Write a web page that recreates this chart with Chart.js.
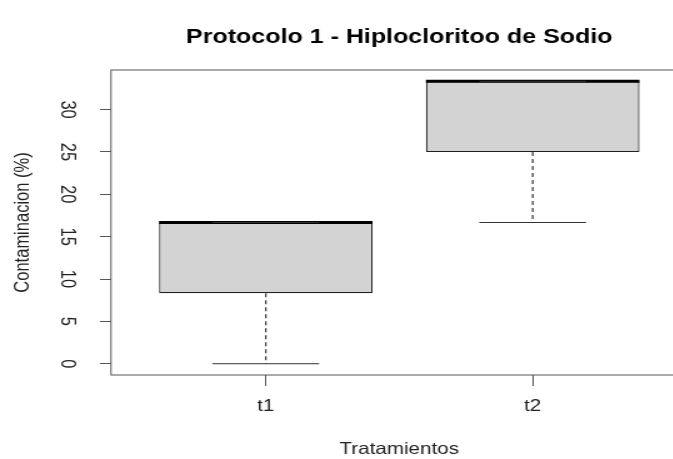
<!DOCTYPE html>
<html>
<head>
<meta charset="utf-8">
<script src="https://cdn.jsdelivr.net/npm/chart.js@4/dist/chart.umd.min.js"></script>
<style>
  html, body { margin: 0; padding: 0; background: #fff; overflow: hidden; width: 673px; height: 459px; }
  /* the plot is laid out on a narrower canvas and widened horizontally */
  #wrap { width: 550px; height: 459px; transform: scaleX(1.25); transform-origin: 0 0; }
  canvas { display: block; }
</style>
</head>
<body>
<div id="wrap"><canvas id="c" width="550" height="459"></canvas></div>
<script>
// Box plot summary per treatment
const categories = ['t1', 't2'];
const minVals    = [0,     16.67];
const q1Vals     = [8.33,  25];
const medianVals = [16.67, 33.33];
const q3Vals     = [16.67, 33.33];
const maxVals    = [16.67, 33.33];

const yTickValues = [0, 5, 10, 15, 20, 25, 30];

const titleText = 'Protocolo 1 - Hiplocloritoo de Sodio';
const xTitle = 'Tratamientos';
const yTitle = 'Contaminacion (%)';

const BOX_HALF = 0.4;   // half box width in category units
const CAP_HALF = 0.2;   // half whisker-cap width

// Join several two-point segments into one line dataset, separated by gaps
function joinSegments(segs) {
  const pts = [];
  segs.forEach((s, k) => {
    if (k) pts.push({ x: s[0].x, y: null });
    pts.push(s[0], s[1]);
  });
  return pts;
}

const pos = categories.map((c, i) => i + 1);

const boxData = pos.map((x, i) => ({ x, y: [q1Vals[i], q3Vals[i]] }));

const whiskerData = joinSegments(pos.flatMap((x, i) => [
  [{ x, y: q1Vals[i] }, { x, y: minVals[i] }],
  [{ x, y: q3Vals[i] }, { x, y: maxVals[i] }]
]));

const capData = joinSegments(pos.flatMap((x, i) => [
  [{ x: x - CAP_HALF, y: minVals[i] }, { x: x + CAP_HALF, y: minVals[i] }],
  [{ x: x - CAP_HALF, y: maxVals[i] }, { x: x + CAP_HALF, y: maxVals[i] }]
]));

const medianData = joinSegments(pos.map((x, i) =>
  [{ x: x - BOX_HALF, y: medianVals[i] }, { x: x + BOX_HALF, y: medianVals[i] }]
));

// Full rectangle around the plotting region
const frame = {
  id: 'frame',
  afterDatasetsDraw(chart) {
    const { ctx, chartArea: a } = chart;
    ctx.save();
    ctx.strokeStyle = '#555';
    ctx.lineWidth = 1;
    ctx.strokeRect(a.left, a.top, a.right - a.left, a.bottom - a.top);
    ctx.restore();
  }
};

Chart.defaults.font.family = '"Liberation Sans", Arial, Helvetica, sans-serif';
Chart.defaults.color = '#222';

const lineCommon = {
  type: 'line',
  pointRadius: 0,
  pointHoverRadius: 0,
  fill: false,
  tension: 0,
  spanGaps: false,
  order: 1
};

new Chart(document.getElementById('c'), {
  type: 'bar',
  data: {
    datasets: [
      {
        label: 'box',
        data: boxData,
        backgroundColor: '#d3d3d3',
        borderColor: '#222',
        borderWidth: 1.2,
        borderSkipped: false,
        categoryPercentage: 1,
        barPercentage: 0.8,
        order: 2
      },
      Object.assign({}, lineCommon, {
        label: 'whisker', data: whiskerData,
        borderColor: '#333', borderWidth: 1.2, borderDash: [4, 3]
      }),
      Object.assign({}, lineCommon, {
        label: 'cap', data: capData,
        borderColor: '#333', borderWidth: 1
      }),
      Object.assign({}, lineCommon, {
        label: 'median', data: medianData,
        borderColor: '#000', borderWidth: 3
      })
    ]
  },
  options: {
    responsive: false,
    animation: false,
    devicePixelRatio: 1,
    layout: { padding: 0 },
    plugins: {
      legend: { display: false },
      tooltip: { enabled: false },
      title: {
        display: true,
        text: titleText,
        fullSize: false,
        color: '#000',
        font: { size: 20, weight: 'bold' },
        padding: { top: 25, bottom: 21 }
      }
    },
    scales: {
      x: {
        type: 'linear',
        offset: false,
        min: 0.42,
        max: 2.58,
        afterBuildTicks(scale) { scale.ticks = pos.map(v => ({ value: v })); },
        afterFit(scale) { scale.height = 84; },
        ticks: {
          autoSkip: false,
          maxRotation: 0,
          padding: 11,
          font: { size: 16.5 },
          callback: v => categories[Math.round(v) - 1]
        },
        grid: { offset: false, drawOnChartArea: false, drawTicks: true, tickLength: 11, color: '#555' },
        border: { display: false },
        title: { display: true, text: xTitle, font: { size: 16.5 }, padding: { top: 0, bottom: 0 } }
      },
      y: {
        type: 'linear',
        min: -1.33,
        max: 34.67,
        afterBuildTicks(scale) { scale.ticks = yTickValues.map(v => ({ value: v })); },
        afterFit(scale) { scale.width = 88.8; },
        ticks: {
          minRotation: -90,
          crossAlign: 'center',
          padding: 17.2,
          font: { size: 16.5 }
        },
        grid: { drawOnChartArea: false, drawTicks: true, tickLength: 8.8, color: '#555' },
        border: { display: false },
        title: { display: true, text: yTitle, font: { size: 16.5 }, padding: { top: 8.5, bottom: 0 } }
      }
    }
  },
  plugins: [frame]
});
</script>
</body>
</html>
